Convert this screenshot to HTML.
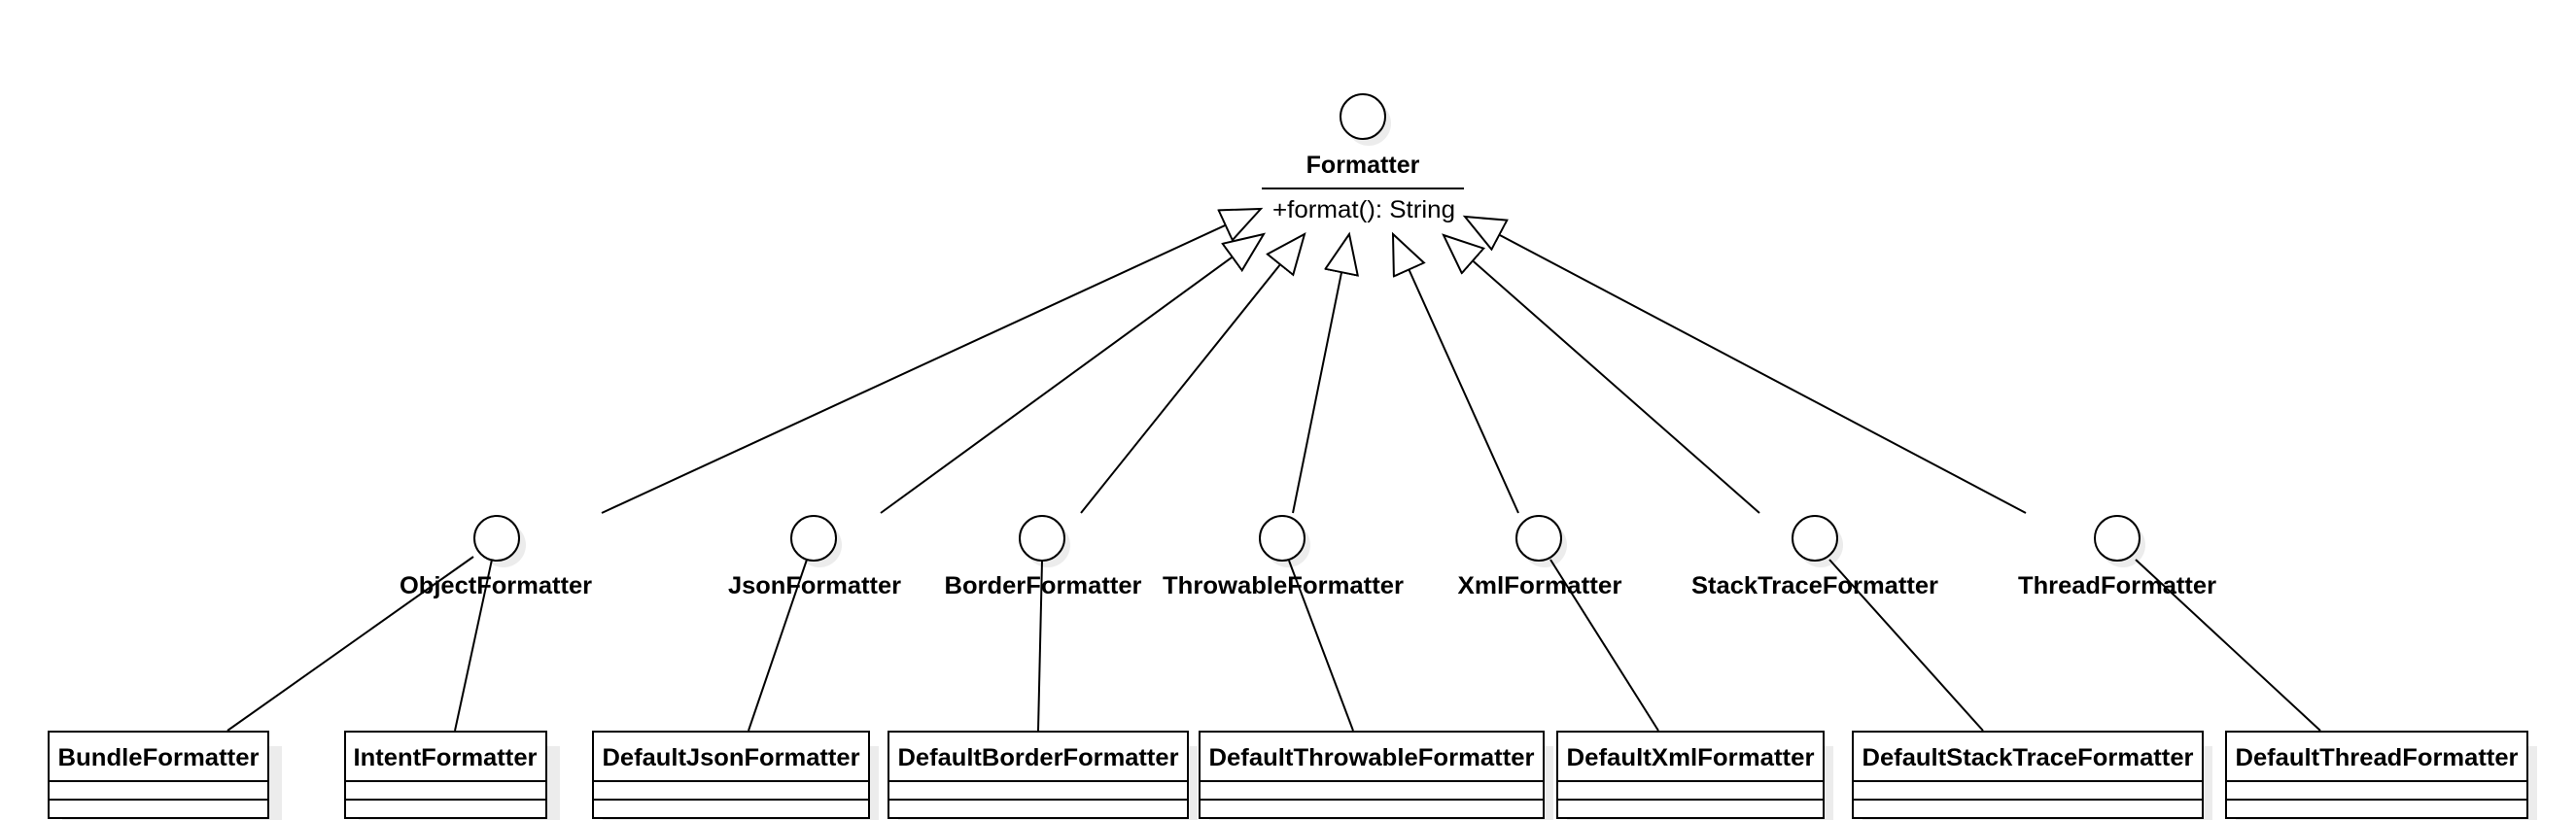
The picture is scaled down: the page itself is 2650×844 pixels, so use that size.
<!DOCTYPE html>
<html><head><meta charset="utf-8"><style>
html,body{margin:0;padding:0;background:#fff;}
svg{display:block;}
text{font-family:"Liberation Sans",Arial,sans-serif;font-weight:bold;font-size:25px;fill:#000;}
</style></head><body>
<svg width="2650" height="844" viewBox="0 0 2650 844" xmlns="http://www.w3.org/2000/svg">
<defs>
<marker id="tri" markerUnits="userSpaceOnUse" markerWidth="44" markerHeight="40" refX="41" refY="18" orient="auto">
<path d="M1,1 L41,18 L1,35 Z" fill="#fff" stroke="#000" stroke-width="2"/>
</marker>
</defs>
<g fill="#ececec">
<circle cx="1408" cy="127" r="23"/>
<circle cx="518" cy="561" r="23"/><circle cx="843" cy="561" r="23"/><circle cx="1078" cy="561" r="23"/>
<circle cx="1325" cy="561" r="23"/><circle cx="1589" cy="561" r="23"/><circle cx="1873" cy="561" r="23"/><circle cx="2184" cy="561" r="23"/>
<rect x="64" y="768" width="226" height="76"/><rect x="369" y="768" width="207" height="76"/>
<rect x="620" y="768" width="284" height="76"/><rect x="924" y="768" width="308" height="76"/>
<rect x="1244" y="768" width="354" height="76"/><rect x="1612" y="768" width="274" height="76"/>
<rect x="1916" y="768" width="360" height="76"/><rect x="2300" y="768" width="310" height="76"/>
</g>
<g stroke="#000" stroke-width="2" fill="none">
<line x1="619" y1="528" x2="1297" y2="215" marker-end="url(#tri)"/>
<line x1="906" y1="528" x2="1300" y2="241" marker-end="url(#tri)"/>
<line x1="1112" y1="528" x2="1342" y2="241" marker-end="url(#tri)"/>
<line x1="1330" y1="528" x2="1388" y2="241" marker-end="url(#tri)"/>
<line x1="1562" y1="528" x2="1433" y2="241" marker-end="url(#tri)"/>
<line x1="1810" y1="528" x2="1485" y2="242" marker-end="url(#tri)"/>
<line x1="2084" y1="528" x2="1507" y2="223" marker-end="url(#tri)"/>
<line x1="487" y1="573" x2="234" y2="752"/>
<line x1="506" y1="576" x2="468" y2="752"/>
<line x1="830" y1="576" x2="770" y2="752"/>
<line x1="1072" y1="577" x2="1068" y2="752"/>
<line x1="1326" y1="577" x2="1392" y2="752"/>
<line x1="1595" y1="576" x2="1706" y2="752"/>
<line x1="1882" y1="576" x2="2040" y2="752"/>
<line x1="2197" y1="576" x2="2387" y2="752"/>
<line x1="1298" y1="194" x2="1506" y2="194"/>
</g>
<g stroke="#000" stroke-width="2" fill="#fff">
<circle cx="1402" cy="120" r="23"/>
<circle cx="511" cy="554" r="23"/><circle cx="837" cy="554" r="23"/><circle cx="1072" cy="554" r="23"/>
<circle cx="1319" cy="554" r="23"/><circle cx="1583" cy="554" r="23"/><circle cx="1867" cy="554" r="23"/><circle cx="2178" cy="554" r="23"/>
</g>
<g stroke="#000" stroke-width="2" fill="#fff">
<rect x="50" y="753" width="226" height="89"/><rect x="355" y="753" width="207" height="89"/>
<rect x="610" y="753" width="284" height="89"/><rect x="914" y="753" width="308" height="89"/>
<rect x="1234" y="753" width="354" height="89"/><rect x="1602" y="753" width="274" height="89"/>
<rect x="1906" y="753" width="360" height="89"/><rect x="2290" y="753" width="310" height="89"/>
</g>
<g stroke="#000" stroke-width="2">
<line x1="50" y1="804" x2="276" y2="804"/><line x1="50" y1="823" x2="276" y2="823"/>
<line x1="355" y1="804" x2="562" y2="804"/><line x1="355" y1="823" x2="562" y2="823"/>
<line x1="610" y1="804" x2="894" y2="804"/><line x1="610" y1="823" x2="894" y2="823"/>
<line x1="914" y1="804" x2="1222" y2="804"/><line x1="914" y1="823" x2="1222" y2="823"/>
<line x1="1234" y1="804" x2="1588" y2="804"/><line x1="1234" y1="823" x2="1588" y2="823"/>
<line x1="1602" y1="804" x2="1876" y2="804"/><line x1="1602" y1="823" x2="1876" y2="823"/>
<line x1="1906" y1="804" x2="2266" y2="804"/><line x1="1906" y1="823" x2="2266" y2="823"/>
<line x1="2290" y1="804" x2="2600" y2="804"/><line x1="2290" y1="823" x2="2600" y2="823"/>
</g>
<text x="1402" y="178" text-anchor="middle">Formatter</text>
<text x="1403" y="224" text-anchor="middle" style="font-weight:normal" textLength="188" lengthAdjust="spacingAndGlyphs">+format(): String</text>
<g text-anchor="middle">
<text x="510" y="611" textLength="198" lengthAdjust="spacingAndGlyphs">ObjectFormatter</text>
<text x="838" y="611" textLength="178" lengthAdjust="spacingAndGlyphs">JsonFormatter</text>
<text x="1073" y="611" textLength="203" lengthAdjust="spacingAndGlyphs">BorderFormatter</text>
<text x="1320" y="611" textLength="248" lengthAdjust="spacingAndGlyphs">ThrowableFormatter</text>
<text x="1584" y="611" textLength="169" lengthAdjust="spacingAndGlyphs">XmlFormatter</text>
<text x="1867" y="611" textLength="254" lengthAdjust="spacingAndGlyphs">StackTraceFormatter</text>
<text x="2178" y="611" textLength="204" lengthAdjust="spacingAndGlyphs">ThreadFormatter</text>
<text x="163" y="788" textLength="207" lengthAdjust="spacingAndGlyphs">BundleFormatter</text>
<text x="458" y="788" textLength="189" lengthAdjust="spacingAndGlyphs">IntentFormatter</text>
<text x="752" y="788" textLength="265" lengthAdjust="spacingAndGlyphs">DefaultJsonFormatter</text>
<text x="1068" y="788" textLength="289" lengthAdjust="spacingAndGlyphs">DefaultBorderFormatter</text>
<text x="1411" y="788" textLength="335" lengthAdjust="spacingAndGlyphs">DefaultThrowableFormatter</text>
<text x="1739" y="788" textLength="255" lengthAdjust="spacingAndGlyphs">DefaultXmlFormatter</text>
<text x="2086" y="788" textLength="341" lengthAdjust="spacingAndGlyphs">DefaultStackTraceFormatter</text>
<text x="2445" y="788" textLength="291" lengthAdjust="spacingAndGlyphs">DefaultThreadFormatter</text>
</g>
</svg>
</body></html>
